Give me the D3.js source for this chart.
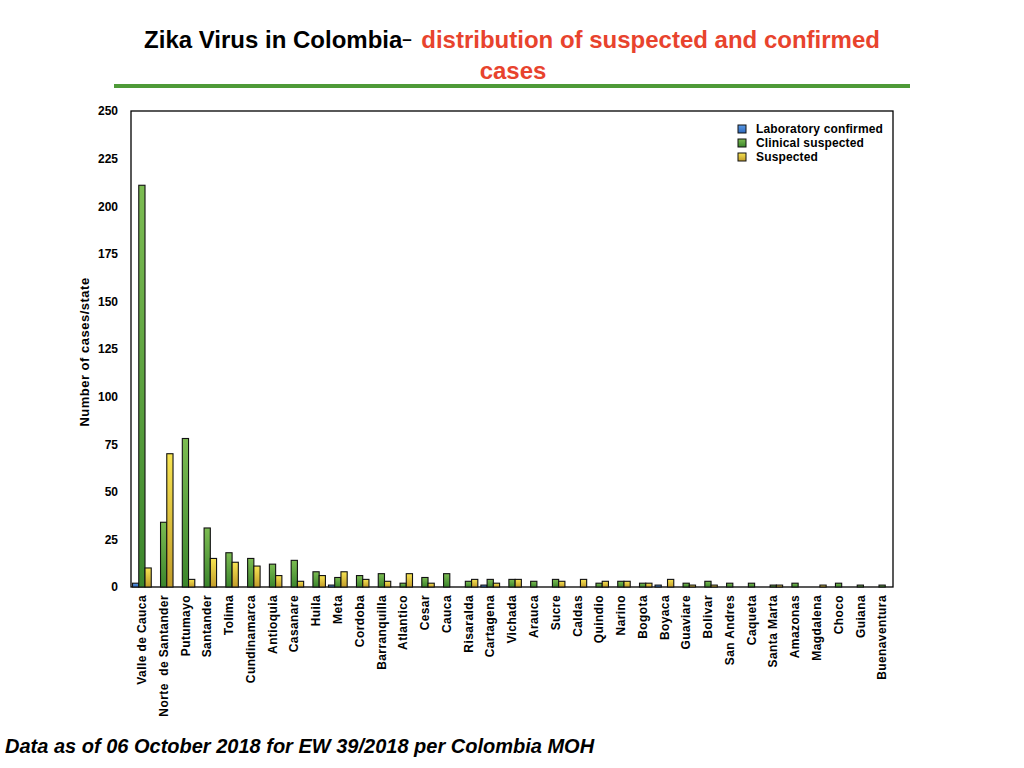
<!DOCTYPE html>
<html>
<head>
<meta charset="utf-8">
<script src="https://cdn.jsdelivr.net/npm/d3@7"></script>
<style>
  body { margin: 0; background: #fff; }
  svg { display: block; font-family: "Liberation Sans", Arial, Helvetica, sans-serif; }
  .tick text { font-weight: bold; }
</style>
</head>
<body>
<div id="chart"></div>
<script>
// values
const states = ['Valle de Cauca', 'Norte  de Santander', 'Putumayo', 'Santander', 'Tolima',
    'Cundinamarca', 'Antioquia', 'Casanare', 'Huila', 'Meta', 'Cordoba', 'Barranquilla',
    'Atlantico', 'Cesar', 'Cauca', 'Risaralda', 'Cartagena', 'Vichada', 'Arauca', 'Sucre',
    'Caldas', 'Quindio', 'Narino', 'Bogota', 'Boyaca', 'Guaviare', 'Bolivar', 'San Andres',
    'Caqueta', 'Santa Marta', 'Amazonas', 'Magdalena', 'Choco', 'Guiana', 'Buenaventura'];
const labConfirmed = [2, 0, 0, 0, 0, 0, 0, 0, 0, 1, 0, 0, 0, 0, 0, 0, 1, 0, 0, 0,
    0, 0, 0, 0, 1, 0, 0, 0, 0, 0, 0, 0, 0, 0, 0];
const clinicalSuspected = [211, 34, 78, 31, 18, 15, 12, 14, 8, 5, 6, 7, 2, 5, 7, 3, 4, 4, 3, 4,
    0, 2, 3, 2, 0, 2, 3, 2, 2, 1, 2, 0, 2, 1, 1];
const suspected = [10, 70, 4, 15, 13, 11, 6, 3, 6, 8, 4, 3, 7, 2, 0, 4, 2, 4, 0, 3,
    4, 3, 3, 2, 4, 1, 1, 0, 0, 1, 0, 1, 0, 0, 0];
const seriesNames = ['Laboratory confirmed', 'Clinical suspected', 'Suspected'];
const yTicks = [0, 25, 50, 75, 100, 125, 150, 175, 200, 225, 250];

const W = 1024, H = 768;
const margin = {top: 111, right: 131, bottom: 181, left: 131};
const width = W - margin.left - margin.right;
const height = H - margin.top - margin.bottom;

const series = [
    {name: seriesNames[0], values: labConfirmed, top: '#5b9be6', bottom: '#2e68bd'},
    {name: seriesNames[1], values: clinicalSuspected, top: '#7cbc52', bottom: '#3b862c'},
    {name: seriesNames[2], values: suspected, top: '#f7e452', bottom: '#c29c2a'}
];

const svg = d3.select('#chart').append('svg')
    .attr('width', W)
    .attr('height', H);

// gradients for the bars, light on top
const defs = svg.append('defs');
series.forEach((s, i) => {
    const g = defs.append('linearGradient')
        .attr('id', 'grad' + i)
        .attr('x1', 0).attr('y1', 0).attr('x2', 0).attr('y2', 1);
    g.append('stop').attr('offset', '0%').attr('stop-color', s.top);
    g.append('stop').attr('offset', '100%').attr('stop-color', s.bottom);
});

// title
const title = svg.append('text')
    .attr('x', W / 2)
    .attr('y', 48)
    .attr('text-anchor', 'middle')
    .style('font-size', '24px')
    .style('font-weight', 'bold')
    .style('white-space', 'pre');
title.append('tspan').attr('fill', '#000').text('Zika Virus in Colombia');
title.append('tspan').attr('fill', '#000').attr('dy', -3).style('font-size', '17px').text('–  ');
title.append('tspan').attr('fill', '#e8432d').attr('dy', 3).text('distribution of suspected and confirmed');

svg.append('text')
    .attr('x', W / 2 + 1)
    .attr('y', 79)
    .attr('text-anchor', 'middle')
    .attr('fill', '#e8432d')
    .style('font-size', '24px')
    .style('font-weight', 'bold')
    .text('cases');

svg.append('line')
    .attr('x1', 114).attr('x2', 910)
    .attr('y1', 86).attr('y2', 86)
    .attr('stroke', '#4e9a38')
    .attr('stroke-width', 4);

const chart = svg.append('g')
    .attr('transform', 'translate(' + margin.left + ',' + margin.top + ')');

const x0 = d3.scaleBand()
    .domain(states)
    .range([0, width])
    .paddingInner(0.14)
    .paddingOuter(0.07);

const x1 = d3.scaleBand()
    .domain(d3.range(series.length))
    .range([0, x0.bandwidth()]);

const y = d3.scaleLinear()
    .domain([0, 250])
    .range([height, 0]);

// frame
chart.append('rect')
    .attr('width', width)
    .attr('height', height)
    .attr('fill', 'none')
    .attr('stroke', '#000')
    .attr('stroke-width', 1.3);

// y axis
const yAxis = chart.append('g')
    .call(d3.axisLeft(y).tickValues(yTicks).tickSize(0).tickPadding(13));
yAxis.select('.domain').remove();
yAxis.selectAll('text').style('font-size', '12px').attr('fill', '#000');

// bars
const groups = chart.selectAll('g.state')
    .data(states)
    .enter().append('g')
    .attr('class', 'state')
    .attr('transform', d => 'translate(' + x0(d) + ',0)');

groups.selectAll('rect')
    .data((d, i) => series.map((s, k) => ({k: k, v: s.values[i]})).filter(e => e.v > 0))
    .enter().append('rect')
    .attr('x', d => x1(d.k))
    .attr('width', x1.bandwidth())
    .attr('y', d => y(d.v))
    .attr('height', d => y(0) - y(d.v))
    .attr('fill', d => 'url(#grad' + d.k + ')')
    .attr('stroke', '#111')
    .attr('stroke-width', 1.1);

// x axis labels, rotated
const xAxis = chart.append('g')
    .attr('transform', 'translate(0,' + height + ')')
    .call(d3.axisBottom(x0).tickSize(0).tickPadding(0));
xAxis.select('.domain').remove();
xAxis.selectAll('text')
    .style('font-size', '12px')
    .style('letter-spacing', '0.4px')
    .style('white-space', 'pre')
    .attr('fill', '#000')
    .attr('text-anchor', 'end')
    .attr('dy', '0.35em')
    .attr('transform', 'translate(0,8) rotate(-90)')
    .attr('x', 0)
    .attr('y', 0);

// y axis title
svg.append('text')
    .attr('transform', 'translate(89,352) rotate(-90)')
    .attr('text-anchor', 'middle')
    .style('font-size', '13px')
    .style('letter-spacing', '0.5px')
    .style('font-weight', 'bold')
    .text('Number of cases/state');

// legend
const legend = svg.append('g')
    .attr('transform', 'translate(738,129)');
series.forEach((s, i) => {
    const row = legend.append('g').attr('transform', 'translate(0,' + i * 14 + ')');
    row.append('rect')
        .attr('x', 0).attr('y', -4)
        .attr('width', 8).attr('height', 8)
        .attr('fill', 'url(#grad' + i + ')')
        .attr('stroke', '#111')
        .attr('stroke-width', 1);
    row.append('text')
        .attr('x', 18)
        .attr('dy', '0.35em')
        .style('font-size', '12px')
        .style('letter-spacing', '0.15px')
        .style('font-weight', 'bold')
        .text(s.name);
});

// footnote
svg.append('text')
    .attr('x', 5)
    .attr('y', 753)
    .style('font-size', '20px')
    .style('font-weight', 'bold')
    .style('font-style', 'italic')
    .text('Data as of 06 October 2018 for EW 39/2018 per Colombia MOH');
</script>
</body>
</html>
